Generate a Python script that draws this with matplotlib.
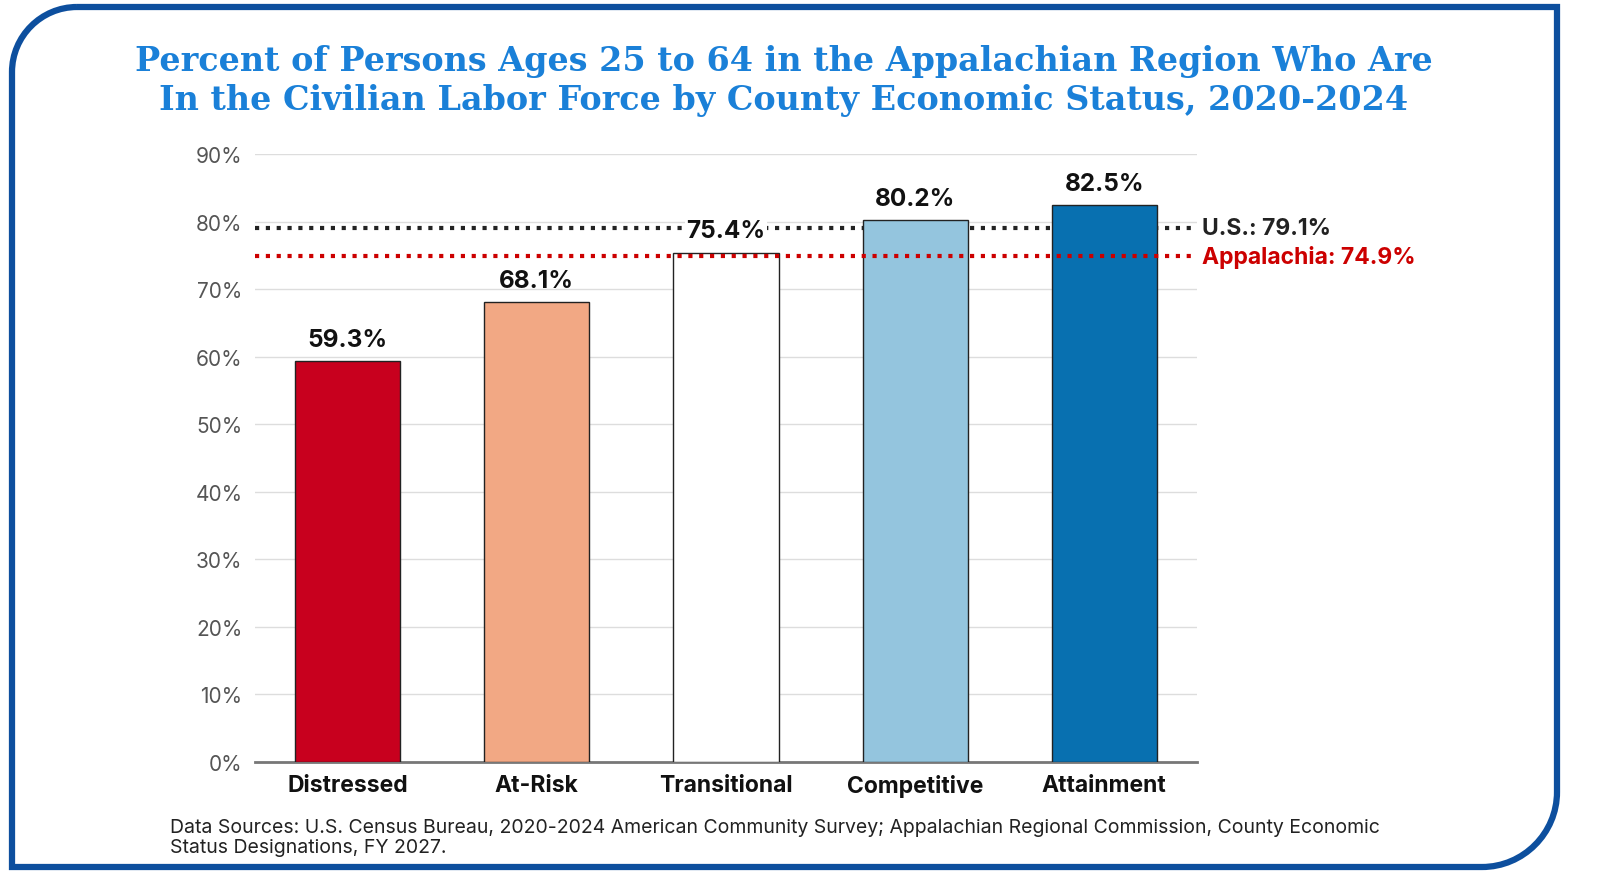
import matplotlib
matplotlib.use("Agg")
import matplotlib.pyplot as plt
from matplotlib.path import Path
from matplotlib.patches import PathPatch

categories = ["Distressed", "At-Risk", "Transitional", "Competitive", "Attainment"]
values = [59.3, 68.1, 75.4, 80.2, 82.5]
colors = ["#c8001e", "#f2a884", "#ffffff", "#94c5de", "#0870b0"]
us_val = 79.1
app_val = 74.9
yticks = list(range(0, 91, 10))

plt.rcParams['font.family'] = ['Inter', 'DejaVu Sans']
W, H = 1600, 895
fig = plt.figure(figsize=(16, 8.95), dpi=100)

def P(x, y):
    return (x / W, 1 - y / H)
L, T, R, B, r1, r2 = 12, 8, 1557, 868, 65, 75
k = 0.55
verts = [P(L + r1, T), P(R, T), P(R, B - r2),
         P(R, B - r2 + k * r2), P(R - r2 + k * r2, B), P(R - r2, B),
         P(L, B), P(L, T + r1),
         P(L, T + r1 - k * r1), P(L + r1 - k * r1, T), P(L + r1, T)]
codes = [Path.MOVETO, Path.LINETO, Path.LINETO,
         Path.CURVE4, Path.CURVE4, Path.CURVE4,
         Path.LINETO, Path.LINETO,
         Path.CURVE4, Path.CURVE4, Path.CURVE4]
fig.patches.append(PathPatch(Path(verts, codes), transform=fig.transFigure,
                             fill=False, edgecolor="#0d4f9e", linewidth=4.5))

fig.text(0.49, 1 - 81 / H, "Percent of Persons Ages 25 to 64 in the Appalachian Region Who Are\nIn the Civilian Labor Force by County Economic Status, 2020-2024",
         ha="center", va="center", fontsize=24, fontweight="bold", color="#1a80d8",
         family="DejaVu Serif", linespacing=1.2)

ax = fig.add_axes([255 / W, 1 - 763 / H, (1197 - 255) / W, (763 - 155) / H])
x = list(range(len(categories)))
ax.bar(x, values, width=0.556, color=colors, edgecolor="#222222", linewidth=1, zorder=3)
ax.set_xlim(-0.49, 4.49)
ax.set_ylim(0, 90)
ax.set_yticks(yticks)
ax.set_yticklabels([f"{t}%" for t in yticks], fontsize=15, color="#555555")
ax.set_xticks(x)
ax.set_xticklabels(categories, fontsize=16.5, fontweight="bold", color="#111111")
ax.tick_params(length=0, pad=9)
ax.grid(axis="y", color="#dddddd", linewidth=1, zorder=0)
for s in ["top", "right", "left"]:
    ax.spines[s].set_visible(False)
ax.spines["bottom"].set_color("#777777")
ax.spines["bottom"].set_linewidth(2)

ax.axhline(us_val, color="#222222", linestyle=(0, (1, 1.6)), linewidth=3, zorder=2)
ax.axhline(app_val, color="#cc0000", linestyle=(0, (1, 1.6)), linewidth=3, zorder=4)
for xi, v in zip(x, values):
    ax.text(xi, v + 1.5, f"{v}%", ha="center", va="bottom", fontsize=17.5, fontweight="bold",
            color="#111111", zorder=5,
            bbox=dict(facecolor="white", edgecolor="none", pad=1) if app_val < v < us_val else None)
ax.text(1.005, us_val, f"U.S.: {us_val}%", transform=ax.get_yaxis_transform(), ha="left", va="center",
        fontsize=16.5, fontweight="bold", color="#222222", clip_on=False)
ax.text(1.005, app_val, f"Appalachia: {app_val}%", transform=ax.get_yaxis_transform(), ha="left", va="center",
        fontsize=16.5, fontweight="bold", color="#cc0000", clip_on=False)

fig.text(170 / W, 1 - 838 / H, "Data Sources: U.S. Census Bureau, 2020-2024 American Community Survey; Appalachian Regional Commission, County Economic\nStatus Designations, FY 2027.",
         ha="left", va="center", fontsize=14, color="#222222", linespacing=1.1)

fig.savefig("out.png", dpi=100)
